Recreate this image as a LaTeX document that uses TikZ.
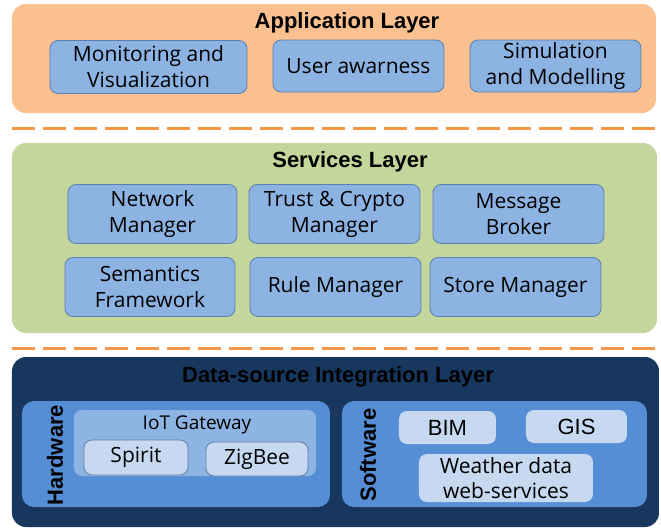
\documentclass[tikz,border=0pt]{standalone}
\usepackage{fontspec}
\setmainfont{Open Sans}
\newfontfamily\arialfont{Liberation Sans}
\usetikzlibrary{positioning}
\definecolor{appOrange}{HTML}{FAC090}
\definecolor{dashOrange}{HTML}{F79646}
\definecolor{srvGreen}{HTML}{C3D69B}
\definecolor{boxBlue}{HTML}{8DB3E2}
\definecolor{boxBorder}{HTML}{5A7FB0}
\definecolor{navy}{HTML}{17375E}
\definecolor{midBlue}{HTML}{558ED5}
\definecolor{lightBlue}{HTML}{8EB4E3}
\definecolor{paleBlue}{HTML}{C6D9F1}

\begin{document}
\begin{tikzpicture}[x=0.5pt, y=-0.5pt,
    layer/.style={rectangle, rounded corners=7pt, inner sep=0pt},
    module/.style={rectangle, rounded corners=4pt, draw=boxBorder, fill=boxBlue,
        inner sep=0pt, align=center, font=\fontsize{10.5}{13}\selectfont},
    sub/.style={rectangle, rounded corners=4pt, inner sep=0pt, align=center,
        font=\fontsize{10.5}{12.5}\selectfont},
    title/.style={font=\arialfont\bfseries\fontsize{11}{13}\selectfont},
    sep/.style={dashOrange, line width=1.5pt, dash pattern=on 11.5pt off 4pt}]
    \useasboundingbox (0,0) rectangle (661,531);

    % Application layer
    \node[layer, fill=appOrange, minimum width=322pt, minimum height=54.5pt] (app) at (334,58.5) {};
    \node[title] (appT) at (347,23) {Application Layer};
    \node[module, minimum width=98.5pt, minimum height=26.5pt] (mon) at (148.5,67) {Monitoring and\\Visualization};
    \node[module, minimum width=85.5pt, minimum height=26pt] (usr) at (358.5,66) {User awarness};
    \node[module, minimum width=85.5pt, minimum height=26pt] (sim) at (555.5,66) {Simulation\\and Modelling};

    % Separators
    \coordinate (sepA) at (12,128);
    \coordinate (sepB) at (661,128);
    \coordinate (sepC) at (12,348);
    \coordinate (sepD) at (661,348);
    \draw[sep] (sepA) -- (sepB);
    \draw[sep] (sepC) -- (sepD);

    % Services layer
    \node[layer, fill=srvGreen, minimum width=322.5pt, minimum height=95pt] (srv) at (334.5,238) {};
    \node[title] (srvT) at (350,162) {Services Layer};
    \node[module, minimum width=84.5pt, minimum height=29.5pt] (net) at (152.5,214) {Network\\Manager};
    \node[module, minimum width=85.5pt, minimum height=29.5pt] (trust) at (334.5,214) {Trust \& Crypto\\Manager};
    \node[module, minimum width=85.5pt, minimum height=29.5pt] (msg) at (518.5,214) {Message\\Broker};
    \node[module, minimum width=85pt, minimum height=29.5pt] (sem) at (150,287) {Semantics\\Framework};
    \node[module, minimum width=85.5pt, minimum height=29.5pt] (rule) at (335.5,287) {Rule Manager};
    \node[module, minimum width=85.5pt, minimum height=29.5pt] (store) at (515.5,287) {Store Manager};

    % Data-source integration layer
    \node[layer, fill=navy, minimum width=323.5pt, minimum height=85pt] (dsi) at (335.5,442) {};
    \node[title] (dsiT) at (338,377) {Data-source Integration Layer};
    \node[layer, rounded corners=6pt, fill=midBlue, minimum width=154pt, minimum height=53pt] (hw) at (176,454) {};
    \node[title, rotate=90] (hwT) at (55,455) {Hardware};
    \node[sub, fill=lightBlue, minimum width=121pt, minimum height=33pt] (gw) at (195,443) {};
    \node[sub, font=\fontsize{9.5}{11}\selectfont] (gwT) at (197,425) {IoT Gateway};
    \node[sub, draw=lightBlue!70!black, fill=paleBlue, minimum width=52pt, minimum height=17.5pt] (spirit) at (136,457.5) {Spirit};
    \node[sub, draw=lightBlue!70!black, fill=paleBlue, minimum width=51pt, minimum height=17pt] (zig) at (257,459) {ZigBee};
    \node[layer, rounded corners=6pt, fill=midBlue, minimum width=152.5pt, minimum height=53pt] (sw) at (494.5,454) {};
    \node[title, rotate=90] (swT) at (368,455) {Software};
    \node[sub, fill=paleBlue, font=\arialfont\fontsize{11}{13}\selectfont, minimum width=48.5pt, minimum height=16.5pt] (bim) at (447.5,427.5) {BIM};
    \node[sub, fill=paleBlue, font=\arialfont\fontsize{11}{13}\selectfont, minimum width=50.5pt, minimum height=16.5pt] (gis) at (576.5,426.5) {GIS};
    \node[sub, fill=paleBlue, minimum width=87pt, minimum height=24pt] (wth) at (506,478) {Weather data\\web-services};
\end{tikzpicture}
\end{document}
